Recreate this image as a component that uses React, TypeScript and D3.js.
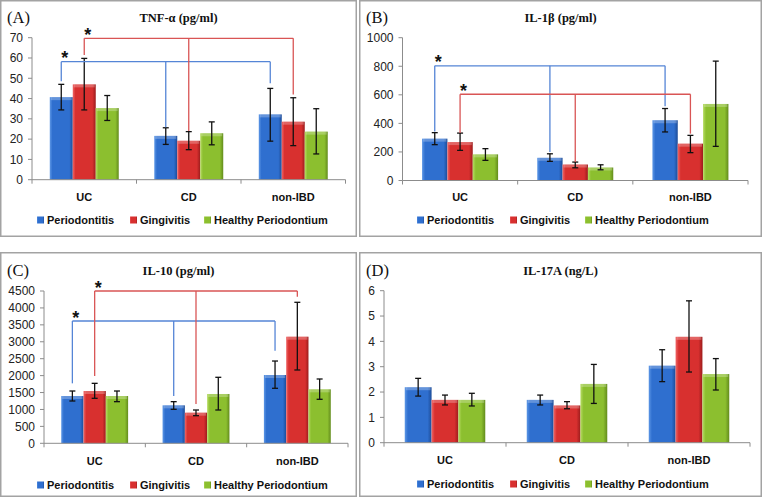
import * as d3 from "d3";

const categories = ["UC", "CD", "non-IBD"];
const seriesNames = ["Periodontitis", "Gingivitis", "Healthy Periodontium"];

// values per category: [Periodontitis, Gingivitis, Healthy Periodontium]
const tnfMeans = [[40.7, 47, 35.3], [21.6, 19.2, 22.9], [32.2, 28.6, 23.7]];
const tnfLow = [[34.4, 34.4, 29.2], [17.4, 14.8, 17.2], [19, 16.8, 12.7]];
const tnfHigh = [[47, 59.8, 41.5], [25.6, 23.7, 28.5], [45, 40.4, 35]];

const il1Means = [[293, 269, 183], [159, 112, 91], [422, 258, 536]];
const il1Low = [[251, 211, 141], [134, 89, 75], [340, 195, 239]];
const il1High = [[335, 332, 223], [187, 129, 110], [504, 316, 836]];

const il10Means = [[1397, 1545, 1397], [1122, 905, 1457], [2018, 3150, 1595]];
const il10Low = [[1250, 1329, 1230], [1004, 816, 984], [1625, 2166, 1300]];
const il10High = [[1545, 1772, 1545], [1230, 984, 1950], [2431, 4166, 1900]];

const il17Means = [[2.19, 1.69, 1.69], [1.69, 1.47, 2.32], [3.04, 4.18, 2.71]];
const il17Low = [[1.84, 1.49, 1.45], [1.49, 1.34, 1.55], [2.41, 2.79, 2.08]];
const il17High = [[2.54, 1.88, 1.95], [1.88, 1.62, 3.09], [3.67, 5.6, 3.32]];

// significance brackets: series index, start value at UC, bar level, drop end values at CD and non-IBD
type Bracket = { series: number; start: number; top: number; ends: number[] };
const tnfBrackets: Bracket[] = [
  { series: 0, start: 48.5, top: 58.2, ends: [25.9, 47.5] },
  { series: 1, start: 61.5, top: 69.7, ends: [24, 42] },
];
const il1Brackets: Bracket[] = [
  { series: 0, start: 344, top: 803, ends: [200, 520] },
  { series: 1, start: 332, top: 604, ends: [130, 328] },
];
const il10Brackets: Bracket[] = [
  { series: 0, start: 1772, top: 3613, ends: [1400, 2736] },
  { series: 1, start: 1989, top: 4500, ends: [1161, 4333] },
];

const barColors = [
  { light: "#5d97e6", main: "#2f6fcf", dark: "#1d4c98" },
  { light: "#f06565", main: "#d8302f", dark: "#9c1c1c" },
  { light: "#b6dc62", main: "#8cbf2f", dark: "#638c1c" },
];
const bracketColors = ["#5585d6", "#d95555"];

type PanelProps = {
  id: string;
  box: [number, number, number, number];
  label: string;
  title: string;
  means: number[][];
  low: number[][];
  high: number[][];
  yMax: number;
  yStep: number;
  brackets: Bracket[];
  axis: { x0: number; x1: number; yTop: number; yBottom: number };
  titleY: number;
  catY: number;
  legendY: number;
  legendX: number[];
};

const SANS = "'Liberation Sans', Arial, sans-serif";
const SERIF = "'Liberation Serif', 'Times New Roman', serif";

function Panel(p: PanelProps) {
  const [bx0, by0, bx1, by1] = p.box;
  const { x0, x1, yTop, yBottom } = p.axis;
  const y = d3.scaleLinear().domain([0, p.yMax]).range([yBottom, yTop]);
  const x = d3.scaleBand<string>().domain(categories).range([x0, x1]).paddingInner(0);
  const bw = x.bandwidth();
  const group = bw * 0.66;
  const xs = d3
    .scaleBand<string>()
    .domain(seriesNames)
    .range([(bw - group) / 2, (bw + group) / 2]);
  const w = xs.bandwidth();
  const ticks = d3.range(0, p.yMax + p.yStep / 2, p.yStep);
  const barX = (c: number, s: number) => (x(categories[c]) ?? 0) + (xs(seriesNames[s]) ?? 0);
  const cx = (c: number, s: number) => barX(c, s) + w / 2;
  const separators = [x0, ...categories.map((c) => (x(c) ?? 0) + bw)];
  const titleX = (bx0 + bx1) / 2;

  return (
    <g>
      <rect x={bx0 + 0.75} y={by0 + 0.75} width={bx1 - bx0 - 1.5} height={by1 - by0 - 1.5} fill="#fff" stroke="#a3a3a3" strokeWidth={1.5} />
      <text x={bx0 + 7} y={p.titleY + 6} fontFamily={SERIF} fontSize={16.5} fill="#111">
        {p.label}
      </text>
      <text x={titleX} y={p.titleY + 4.5} fontFamily={SERIF} fontSize={12.5} fontWeight="bold" textAnchor="middle" fill="#111">
        {p.title}
      </text>

      {/* y axis */}
      <line x1={x0} x2={x0} y1={yTop} y2={yBottom} stroke="#8c8c8c" />
      {ticks.map((t) => (
        <g key={t}>
          <line x1={x0 - 4} x2={x0} y1={y(t)} y2={y(t)} stroke="#8c8c8c" />
          <text x={x0 - 9} y={y(t) + 4.3} fontFamily={SANS} fontSize={12} textAnchor="end" fill="#222">
            {t}
          </text>
        </g>
      ))}

      {/* bars */}
      {categories.map((c, ci) =>
        seriesNames.map((s, si) => {
          const v = p.means[ci][si];
          return (
            <g key={`${c}-${s}`}>
              <rect x={barX(ci, si)} y={y(v)} width={w} height={yBottom - y(v)} fill={`url(#${p.id}-g${si})`} />
              <rect x={barX(ci, si) + 1} y={y(v)} width={w - 2} height={Math.min(3, yBottom - y(v))} fill="#fff" opacity={0.25} />
            </g>
          );
        }),
      )}

      {/* x axis */}
      <line x1={x0} x2={x1} y1={yBottom} y2={yBottom} stroke="#8c8c8c" />
      {separators.map((sx, i) => (
        <line key={i} x1={sx} x2={sx} y1={yBottom} y2={yBottom + 4} stroke="#8c8c8c" />
      ))}
      {categories.map((c) => (
        <text key={c} x={(x(c) ?? 0) + bw / 2} y={p.catY + 4} fontFamily={SANS} fontSize={11} fontWeight="bold" textAnchor="middle" fill="#111">
          {c}
        </text>
      ))}

      {/* error bars */}
      {categories.map((c, ci) =>
        seriesNames.map((s, si) => {
          const px = cx(ci, si);
          const lo = y(p.low[ci][si]);
          const hi = y(p.high[ci][si]);
          return (
            <g key={`e-${c}-${s}`} stroke="#111" strokeWidth={1.3}>
              <line x1={px} x2={px} y1={hi} y2={lo} />
              <line x1={px - 3} x2={px + 3} y1={hi} y2={hi} />
              <line x1={px - 3} x2={px + 3} y1={lo} y2={lo} />
            </g>
          );
        }),
      )}

      {/* significance brackets */}
      {p.brackets.map((b, bi) => {
        const color = bracketColors[b.series];
        const sx = cx(0, b.series);
        const topY = y(b.top);
        const endX = cx(2, b.series);
        return (
          <g key={bi} stroke={color} strokeWidth={1.3} fill="none">
            <line x1={sx} x2={sx} y1={y(b.start)} y2={topY} />
            <line x1={sx} x2={endX} y1={topY} y2={topY} />
            {b.ends.map((e, ei) => {
              const ex = cx(ei + 1, b.series);
              return <line key={ei} x1={ex} x2={ex} y1={topY} y2={y(e)} />;
            })}
            <text x={sx + 3.5} y={topY + 2.5} stroke="none" fill="#111" fontFamily={SANS} fontSize={18} fontWeight="bold" textAnchor="middle">
              *
            </text>
          </g>
        );
      })}

      {/* legend */}
      {seriesNames.map((s, si) => (
        <g key={s}>
          <rect x={bx0 + p.legendX[si]} y={p.legendY - 3.5} width={7} height={7} fill={`url(#${p.id}-g${si})`} />
          <text x={bx0 + p.legendX[si] + 10} y={p.legendY + 4} fontFamily={SANS} fontSize={11} fontWeight="bold" fill="#111">
            {s}
          </text>
        </g>
      ))}

      <defs>
        {barColors.map((col, i) => (
          <linearGradient key={i} id={`${p.id}-g${i}`} x1="0" x2="1" y1="0" y2="0">
            <stop offset="0" stopColor={col.light} />
            <stop offset="0.12" stopColor={col.main} />
            <stop offset="0.85" stopColor={col.main} />
            <stop offset="1" stopColor={col.dark} />
          </linearGradient>
        ))}
      </defs>
    </g>
  );
}

export default function App() {
  const leftLegend = [37, 130, 204];
  const rightLegend = [58, 151, 226];
  return (
    <svg width={763} height={503} style={{ position: "absolute", left: 0, top: 0, background: "#fff" }}>
      <rect width={763} height={503} fill="#fff" />
      <Panel
        id="a"
        box={[0, 0, 357, 237]}
        label="(A)"
        title="TNF-α (pg/ml)"
        means={tnfMeans}
        low={tnfLow}
        high={tnfHigh}
        yMax={70}
        yStep={10}
        brackets={tnfBrackets}
        axis={{ x0: 32, x1: 345.5, yTop: 37.7, yBottom: 179.7 }}
        titleY={17}
        catY={197}
        legendY={220}
        legendX={leftLegend}
      />
      <Panel
        id="b"
        box={[359, 0, 762, 237]}
        label="(B)"
        title="IL-1β (pg/ml)"
        means={il1Means}
        low={il1Low}
        high={il1High}
        yMax={1000}
        yStep={200}
        brackets={il1Brackets}
        axis={{ x0: 402.5, x1: 748, yTop: 37.7, yBottom: 180.5 }}
        titleY={17}
        catY={197}
        legendY={220}
        legendX={rightLegend}
      />
      <Panel
        id="c"
        box={[0, 252, 357, 497]}
        label="(C)"
        title="IL-10 (pg/ml)"
        means={il10Means}
        low={il10Low}
        high={il10High}
        yMax={4500}
        yStep={500}
        brackets={il10Brackets}
        axis={{ x0: 44, x1: 348, yTop: 291, yBottom: 443.3 }}
        titleY={270}
        catY={461}
        legendY={485}
        legendX={leftLegend}
      />
      <Panel
        id="d"
        box={[359, 252, 762, 497]}
        label="(D)"
        title="IL-17A (ng/L)"
        means={il17Means}
        low={il17Low}
        high={il17High}
        yMax={6}
        yStep={1}
        brackets={[]}
        axis={{ x0: 384, x1: 750, yTop: 290.7, yBottom: 442.7 }}
        titleY={270}
        catY={460}
        legendY={484}
        legendX={rightLegend}
      />
    </svg>
  );
}
